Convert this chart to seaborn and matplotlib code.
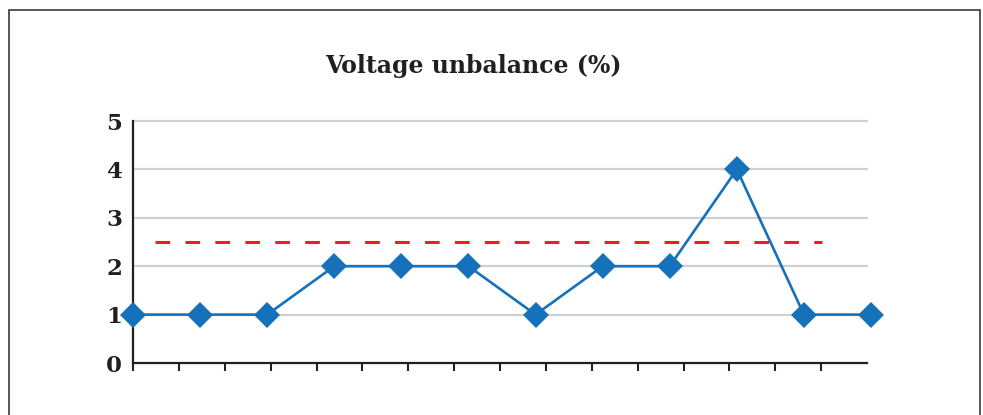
import matplotlib
matplotlib.use("Agg")
import matplotlib.pyplot as plt
import seaborn as sns
from matplotlib.patches import Rectangle

# data
points = list(range(12))
unbalance = [1, 1, 1, 2, 2, 2, 1, 2, 2, 4, 1, 1]
limit = 2.5
limit_start, limit_end = 0.33, 10.27
y_ticks = [0, 1, 2, 3, 4, 5]
x_end = 10.94
n_xticks = 16

sns.set_style("white")
plt.rcParams["font.family"] = ["DejaVu Serif"]

fig = plt.figure(figsize=(9.83, 4.15), dpi=100)
ax = fig.add_axes([0.1353, 0.1253, 0.7467, 0.5831])

# outer frame
fig.patches.append(Rectangle((0.0095, -0.05), 0.987, 1.027, transform=fig.transFigure,
                             fill=False, edgecolor="#3a3a3a", linewidth=1.2))

for y in y_ticks[1:]:
    ax.axhline(y, color="#d0d0d0", linewidth=1.6, zorder=0, clip_on=False)

ax.plot([limit_start, limit_end], [limit, limit], color="#ee1c25", linewidth=2.2,
        dashes=(4.8, 5.0), zorder=2)

sns.lineplot(x=points, y=unbalance, ax=ax, color="#1572ba", linewidth=1.9,
             marker="D", markersize=13.5, markeredgewidth=0, clip_on=False, zorder=3)

ax.set_xlim(0, x_end)
ax.set_ylim(0, 5)
ax.set_yticks(y_ticks)
ax.set_xticks([k * x_end / n_xticks for k in range(n_xticks)])
ax.set_xticklabels([])
ax.tick_params(axis="x", direction="out", length=6, width=1.5, color="#231f20", bottom=True)
ax.tick_params(axis="y", length=0, pad=8, labelsize=16.5, labelcolor="#231f20")
for lab in ax.get_yticklabels():
    lab.set_fontweight("bold")

for side in ["top", "right"]:
    ax.spines[side].set_visible(False)
for side in ["left", "bottom"]:
    ax.spines[side].set_color("#231f20")
    ax.spines[side].set_linewidth(1.6)

fig.text(473 / 983, 1 - 66 / 415, "Voltage unbalance (%)", ha="center", va="center",
         fontsize=17, fontweight="bold", color="#231f20")

fig.savefig("out.png", dpi=100)
